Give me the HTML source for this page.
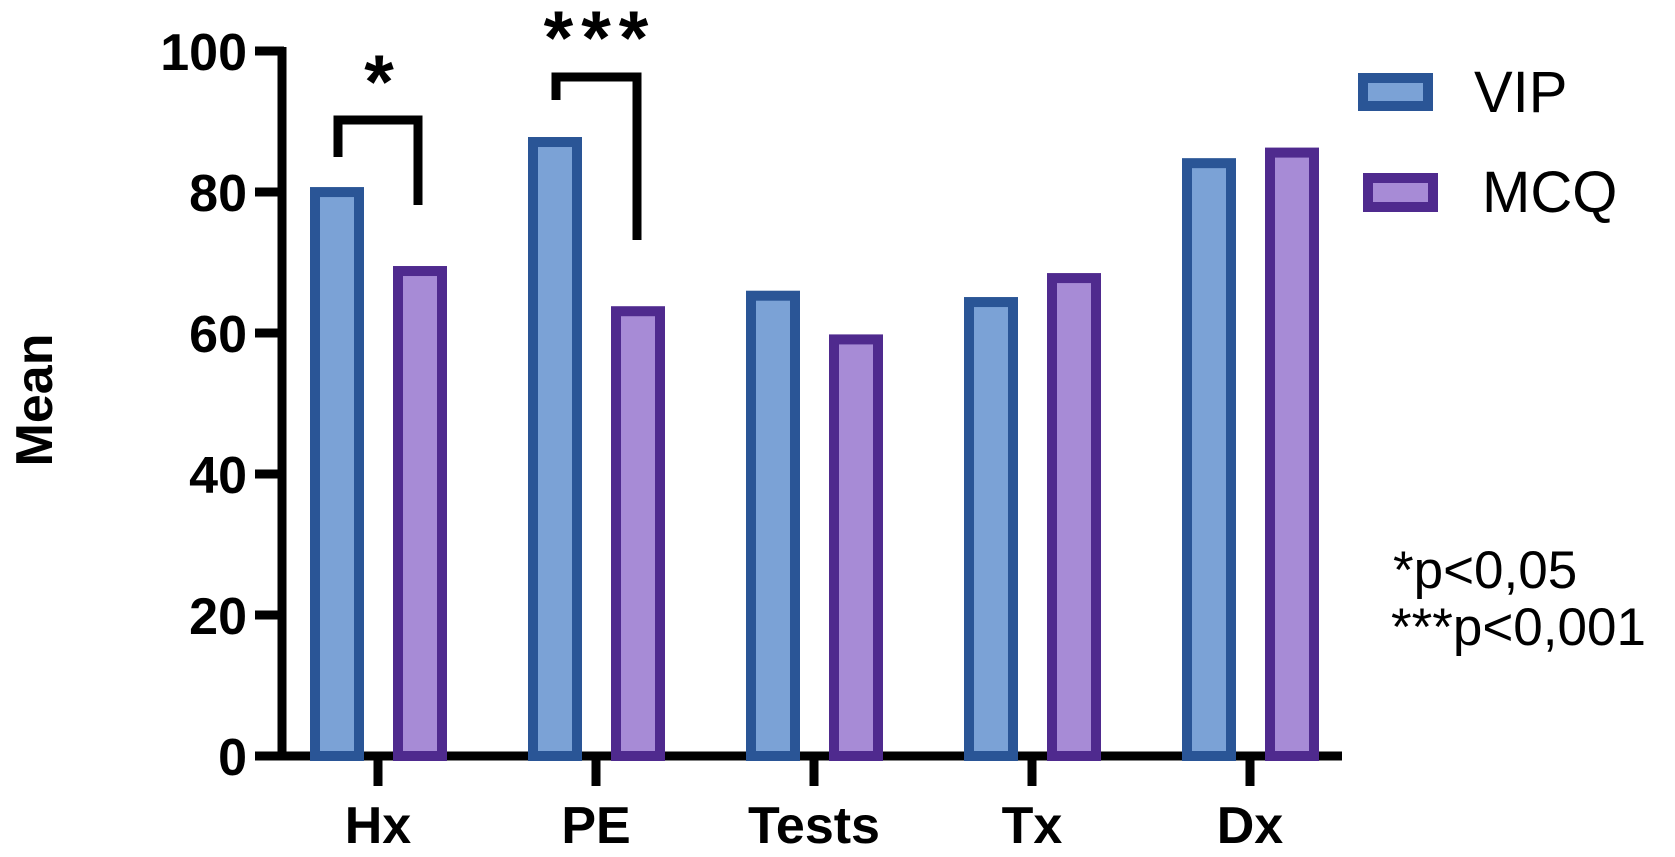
<!DOCTYPE html>
<html><head><meta charset="utf-8"><style>
html,body{margin:0;padding:0;background:#fff;}
svg{display:block;font-family:"Liberation Sans",Arial,sans-serif;}
</style></head><body>
<svg id="chart" width="1675" height="857" viewBox="0 0 1675 857" xmlns="http://www.w3.org/2000/svg">
<g id="axes"></g><g id="bars"></g><g id="annot"></g>
<text x="52" y="400" font-size="52" font-weight="bold" text-anchor="middle" transform="rotate(-90 52 400)">Mean</text>
<rect x="1363" y="78" width="65" height="28" fill="#7ba2d6" stroke="#2a5596" stroke-width="10"/>
<text x="1474" y="112" font-size="58">VIP</text>
<rect x="1368" y="178" width="65" height="29" fill="#a78bd6" stroke="#4f2a8e" stroke-width="10"/>
<text x="1482" y="212" font-size="58">MCQ</text>
<text x="1393" y="588" font-size="53">*p&lt;0,05</text>
<text x="1391" y="645" font-size="53">***p&lt;0,001</text>
</svg>
<script>
const categories=["Hx","PE","Tests","Tx","Dx"];
const vipValues=[80.7,87.8,66.0,65.1,84.8];
const mcqValues=[69.5,63.8,59.8,68.5,86.3];
const yTicks=[0,20,40,60,80,100];
const NS="http://www.w3.org/2000/svg";
const y0=756,pxPer=7.05,x0=378,step=218;
const yS=v=>y0-v*pxPer;
const xS=i=>x0+i*step;
function mk(tag,attrs,parent){const e=document.createElementNS(NS,tag);for(const k in attrs)e.setAttribute(k,attrs[k]);parent.appendChild(e);return e;}
const axes=document.getElementById('axes'),bars=document.getElementById('bars'),annot=document.getElementById('annot');
let l=mk('line',{x1:282,y1:yS(100)-4,x2:282,y2:y0+4,stroke:'#000','stroke-width':9},axes);


l=mk('line',{x1:278,y1:y0,x2:1342,y2:y0,stroke:'#000','stroke-width':9},axes);


yTicks.forEach(v=>{
 const t=mk('line',{x1:255,y1:yS(v),x2:284,y2:yS(v),stroke:'#000','stroke-width':9},axes);
 
 
 const tx=mk('text',{x:247,y:yS(v)+19,'font-size':52,'font-weight':'bold','text-anchor':'end'},axes);
 tx.textContent=v;
 
 
});
categories.forEach((c,i)=>{
 const t=mk('line',{x1:xS(i),y1:y0,x2:xS(i),y2:786,stroke:'#000','stroke-width':9},axes);
 
 
 const tx=mk('text',{x:xS(i),y:843,'font-size':52,'font-weight':'bold','text-anchor':'middle'},axes);
 tx.textContent=c;
 
 
 const w=44;
 const b1=mk('rect',{x:xS(i)-41-w/2,y:yS(vipValues[i])+5,width:w,height:y0-yS(vipValues[i])-5,fill:'#7ba2d6',stroke:'#2a5596','stroke-width':10},bars);
 
 
 const b2=mk('rect',{x:xS(i)+42-w/2,y:yS(mcqValues[i])+5,width:w,height:y0-yS(mcqValues[i])-5,fill:'#a78bd6',stroke:'#4f2a8e','stroke-width':10},bars);
 
 
});
let p=mk('polyline',{points:'338,157 338,120 418,120 418,205',fill:'none',stroke:'#000','stroke-width':9},annot);


let s=mk('text',{x:379,y:108,'font-size':76,'font-weight':'bold','text-anchor':'middle'},annot);
s.textContent='*';


p=mk('polyline',{points:'556,100 556,77 637,77 637,240',fill:'none',stroke:'#000','stroke-width':9},annot);


s=mk('text',{x:600,y:64,'font-size':76,'font-weight':'bold','text-anchor':'middle','letter-spacing':'8'},annot);
s.textContent='***';


</script>
</body></html>
